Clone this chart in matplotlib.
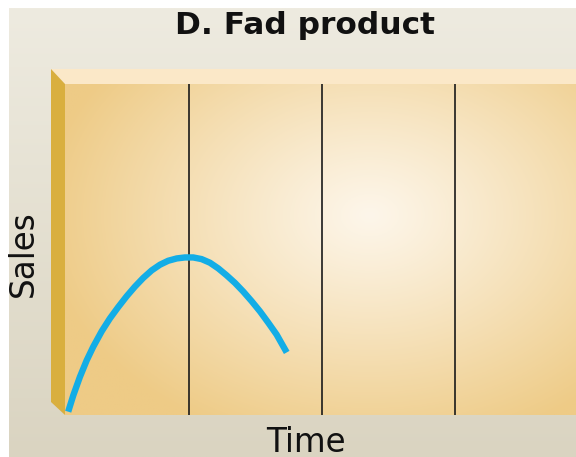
import numpy as np
import matplotlib
matplotlib.use("Agg")
import matplotlib.pyplot as plt
from matplotlib.patches import Polygon
from matplotlib.colors import to_rgb

# ---- data ----
time_vals = [0.092, 0.130, 0.180, 0.231, 0.280, 0.344, 0.406, 0.468, 0.532,
             0.594, 0.656, 0.720, 0.782, 0.844, 0.908, 0.970, 1.032, 1.095,
             1.158, 1.220, 1.283, 1.346, 1.408, 1.471, 1.534, 1.596, 1.659,
             1.735]
sales_vals = [1.0, 5.9, 11.5, 16.5, 20.6, 25.3, 29.2, 32.6, 35.9,
              38.8, 41.4, 43.7, 45.4, 46.6, 47.3, 47.6, 47.6, 47.1,
              46.0, 44.3, 42.2, 39.9, 37.3, 34.4, 31.3, 27.9, 24.3,
              18.9]
gridlines = [1, 2, 3]
title = "D. Fad product"
xlabel = "Time"
ylabel = "Sales"

W, H = 576, 457
fig = plt.figure(figsize=(W / 100, H / 100), dpi=100)
fig.patch.set_facecolor("white")

# background axes in pixel coordinates
bg = fig.add_axes([0, 0, 1, 1])
bg.set_xlim(0, W)
bg.set_ylim(H, 0)
bg.axis("off")

# vertical gradient figure background (with small white margin top/left)
top_c = np.array(to_rgb("#eeebe0"))
bot_c = np.array(to_rgb("#dad4c1"))
g = np.linspace(0, 1, 200)[:, None, None]
grad = top_c * (1 - g) + bot_c * g
grad = np.repeat(grad, 2, axis=1)
bg.imshow(grad, extent=[9, W, H, 8], aspect="auto", zorder=0)

# panel radial gradient
px0, px1, py0, py1 = 65, W, 84, 415
xs = np.linspace(px0, px1, 300)
ys = np.linspace(py0, py1, 200)
X, Y = np.meshgrid(xs, ys)
d = np.sqrt(((X - 370) / 330) ** 2 + ((Y - 215) / 240) ** 2)
d = np.clip(d, 0, 1) ** 1.1
cen = np.array(to_rgb("#fdf6ea"))
edg = np.array(to_rgb("#eecb86"))
img = cen * (1 - d[..., None]) + edg * d[..., None]
bg.imshow(img, extent=[px0, px1, py1, py0], aspect="auto", zorder=1)

# top strip and left wall
bg.add_patch(Polygon([(51, 69), (W, 69), (W, 84), (65, 84)], closed=True,
                     facecolor="#fbe8c8", edgecolor="none", zorder=2))
bg.add_patch(Polygon([(51, 69), (65, 84), (65, 415), (51, 402)], closed=True,
                     facecolor="#d9af3f", edgecolor="none", zorder=2))
bg.set_xlim(0, W)
bg.set_ylim(H, 0)

# data axes over the panel
ax = fig.add_axes([px0 / W, (H - py1) / H, (px1 - px0) / W, (py1 - py0) / H])
ax.patch.set_alpha(0)
ax.set_xlim(0.068, 3.91)
ax.set_ylim(0, 100)
for s in ax.spines.values():
    s.set_visible(False)
ax.set_xticks([])
ax.set_yticks([])
for gx in gridlines:
    ax.axvline(gx, color="#1a1a1a", lw=1.2, zorder=2)
ax.plot(time_vals, sales_vals, color="#13ade6", lw=4.6,
        solid_capstyle="butt", solid_joinstyle="round", zorder=3, clip_on=False)

fam = ["DejaVu Sans"]
fig.text(305 / W, 1 - 26 / H, title, ha="center", va="center",
         fontsize=22.5, fontweight="bold", family=fam, color="#111111")
fig.text(306 / W, 1 - 442 / H, xlabel, ha="center", va="center",
         fontsize=23.5, family=fam, color="#111111")
fig.text(23 / W, 1 - 254 / H, ylabel, ha="center", va="center",
         fontsize=23.5, rotation=90, family=fam, color="#111111")

fig.savefig("out.png", dpi=100)
